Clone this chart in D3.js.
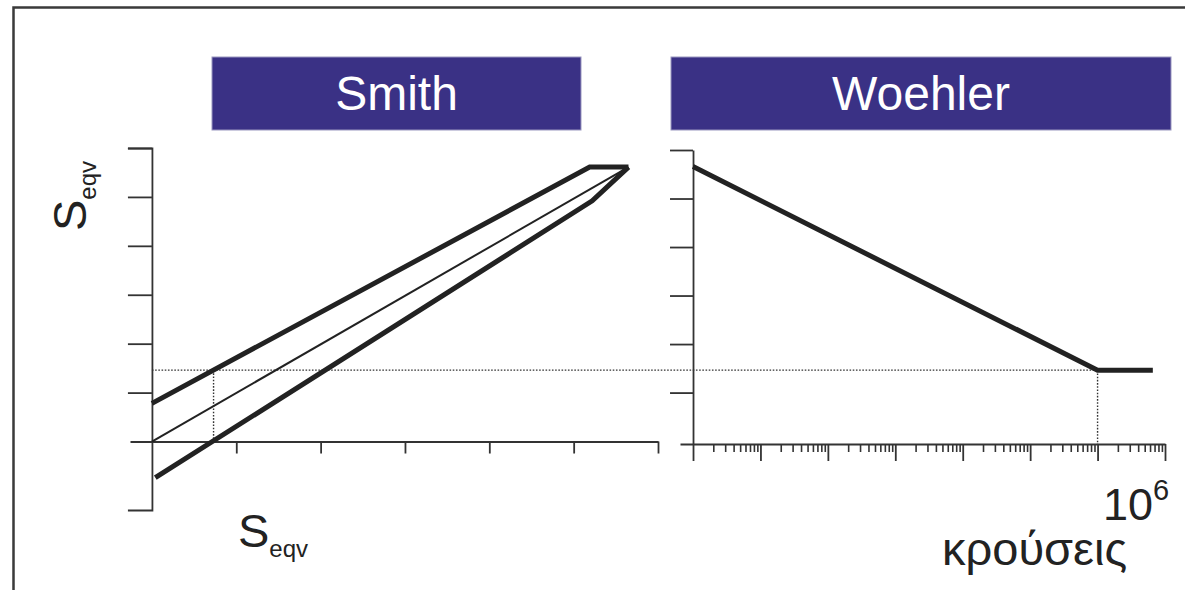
<!DOCTYPE html>
<html>
<head>
<meta charset="utf-8">
<script src="https://cdn.jsdelivr.net/npm/d3@7"></script>
<style>
  html, body { margin: 0; padding: 0; background: #fff; }
  svg { display: block; font-family: "Liberation Sans", Arial, sans-serif; }
</style>
</head>
<body>
<svg id="chart" width="1185" height="590"></svg>
<script>
// Smith diagram: [mean stress, stress] points for the envelope lines
const smithUpper = [[0, 0.78], [5.19, 5.61], [5.65, 5.61]];
const smithMiddle = [[0, 0], [5.65, 5.61]];
const smithLower = [[0.04, -0.74], [5.22, 4.92], [5.65, 5.61]];
const smithXTicks = [1, 2, 3, 4, 5, 6];
const smithYTicks = [1, 2, 3, 4, 5, 6];

// Woehler (S-N) curve: cycles vs stress
const woehlerN = [1, 1e6, 6.6e6];
const woehlerS = [5.66, 1.46, 1.46];
const woehlerYTicks = [1, 2, 3, 4, 5, 6];
const decades = [0, 1, 2, 3, 4, 5, 6, 7];

// endurance limit shared by both diagrams
const fatigueLimit = 1.46;
const kneeCycles = 1e6;

const panelTitles = ["Smith", "Woehler"];

const svg = d3.select("#chart");
const ink = "#222";
const axisInk = "#333";

// outer frame (runs off the right and bottom edges)
svg.append("path")
  .attr("d", "M13.5,600V7.5H1200")
  .attr("fill", "none").attr("stroke", "#3a3a3a").attr("stroke-width", 2.5);

// title boxes
const boxes = [
  { x0: 212, x1: 581, text: panelTitles[0] },
  { x0: 671, x1: 1171, text: panelTitles[1] }
];
boxes.forEach(b => {
  svg.append("rect")
    .attr("x", b.x0).attr("y", 57).attr("width", b.x1 - b.x0).attr("height", 73)
    .attr("fill", "#3a3185").attr("stroke", "#9a97bf").attr("stroke-width", 1);
  svg.append("text")
    .attr("x", (b.x0 + b.x1) / 2).attr("y", 110)
    .attr("text-anchor", "middle").attr("fill", "#fff")
    .attr("font-size", 48).text(b.text);
});

// ---------- Smith panel ----------
const xs = d3.scaleLinear().domain([-0.26, 6]).range([130, 658]);
const ys = d3.scaleLinear().domain([-1.4, 6]).range([510, 148]);

const smithXAxis = svg.append("g")
  .attr("transform", `translate(0,${ys(0)})`)
  .call(d3.axisBottom(xs).tickValues(smithXTicks).tickSize(12).tickSizeOuter(0).tickFormat(""));
const smithYAxis = svg.append("g")
  .attr("transform", `translate(${xs(0)},0)`)
  .call(d3.axisLeft(ys).tickValues(smithYTicks).tickSize(24).tickSizeOuter(24).tickFormat(""));
[smithXAxis, smithYAxis].forEach(g => {
  g.selectAll("path, line").attr("stroke", axisInk).attr("stroke-width", 1.8);
});

const smithLine = d3.line().x(d => xs(d[0])).y(d => ys(d[1]));

// the fatigue limit meets the upper envelope here
function xOnLine(pts, yv) {
  for (let i = 0; i < pts.length - 1; i++) {
    const [xa, ya] = pts[i], [xb, yb] = pts[i + 1];
    if ((yv - ya) * (yv - yb) <= 0 && ya !== yb) return xa + (yv - ya) * (xb - xa) / (yb - ya);
  }
  return pts[0][0];
}
const kneeX = xOnLine(smithUpper, fatigueLimit);

// ---------- Woehler panel ----------
const xw = d3.scaleLog().domain([Math.pow(10, -0.193), 1e7]).range([680, 1165]);
const yw = d3.scaleLinear().domain([-0.06, 6]).range([444, 150]);

const majors = decades.map(k => Math.pow(10, k));
const minors = [];
decades.slice(0, -1).forEach(k => {
  for (let m = 2; m <= 9; m++) minors.push(m * Math.pow(10, k));
});

const wMajor = svg.append("g")
  .attr("transform", `translate(0,${yw(-0.06)})`)
  .call(d3.axisBottom(xw).tickValues(majors).tickSize(17).tickSizeOuter(0).tickFormat(""));
const wMinor = svg.append("g")
  .attr("transform", `translate(0,${yw(-0.06)})`)
  .call(d3.axisBottom(xw).tickValues(minors).tickSize(8).tickSizeOuter(0).tickFormat(""));
wMinor.select(".domain").remove();
const wYAxis = svg.append("g")
  .attr("transform", `translate(${xw(1)},0)`)
  .call(d3.axisLeft(yw).tickValues(woehlerYTicks).tickSize(23).tickSizeOuter(0).tickFormat(""));
[wMajor, wYAxis].forEach(g => g.selectAll("path, line").attr("stroke", axisInk).attr("stroke-width", 1.8));
wMinor.selectAll("line").attr("stroke", axisInk).attr("stroke-width", 1.6);

// ---------- dotted construction lines ----------
const dotted = { stroke: "#333", "stroke-width": 1.4, "stroke-dasharray": "1.6,1.6" };
function dottedLine(x1, y1, x2, y2) {
  const l = svg.append("line").attr("x1", x1).attr("y1", y1).attr("x2", x2).attr("y2", y2);
  Object.entries(dotted).forEach(([k, v]) => l.attr(k, v));
}
dottedLine(xs(0), ys(fatigueLimit), xw(kneeCycles), ys(fatigueLimit));
dottedLine(xs(kneeX), ys(fatigueLimit), xs(kneeX), ys(0));
dottedLine(xw(kneeCycles), yw(fatigueLimit), xw(kneeCycles), yw(-0.06));

// ---------- curves ----------
svg.append("path").attr("d", smithLine(smithMiddle))
  .attr("fill", "none").attr("stroke", ink).attr("stroke-width", 2);
[smithUpper, smithLower].forEach(pts => {
  svg.append("path").attr("d", smithLine(pts))
    .attr("fill", "none").attr("stroke", ink).attr("stroke-width", 5)
    .attr("stroke-linejoin", "miter");
});

const woehlerLine = d3.line().x(d => xw(d[0])).y(d => yw(d[1]));
svg.append("path").attr("d", woehlerLine(woehlerN.map((n, i) => [n, woehlerS[i]])))
  .attr("fill", "none").attr("stroke", ink).attr("stroke-width", 5)
  .attr("stroke-linejoin", "miter");

// ---------- axis labels ----------
const labelInk = "#222";
function seqv(sel) {
  sel.append("tspan").attr("font-size", 47).text("S");
  sel.append("tspan").attr("font-size", 24).attr("dy", 10).text("eqv");
}
svg.append("text").attr("x", 238).attr("y", 547).attr("fill", labelInk).call(seqv);
svg.append("text").attr("transform", "translate(86,231) rotate(-90)").attr("fill", labelInk).call(seqv);

const pow = svg.append("text").attr("x", 1103).attr("y", 520).attr("fill", labelInk);
pow.append("tspan").attr("font-size", 45).text("10");
pow.append("tspan").attr("font-size", 29).attr("dy", -20).text("6");

svg.append("text").attr("x", 942).attr("y", 565).attr("fill", labelInk)
  .attr("font-size", 47).text("κρούσεις");
</script>
</body>
</html>
